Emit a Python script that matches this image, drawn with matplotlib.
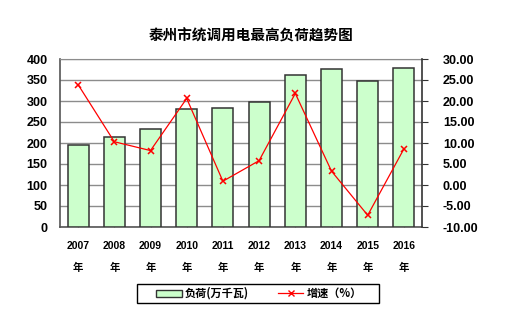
import matplotlib
matplotlib.use("Agg")
import matplotlib.pyplot as plt
import matplotlib.transforms as mtransforms
from matplotlib.lines import Line2D
from matplotlib.patches import Patch, Rectangle

NUM_FONT = ['Liberation Sans', 'DejaVu Sans']
CJK_FONT = ['Noto Sans CJK SC', 'DejaVu Sans']
plt.rcParams['font.family'] = NUM_FONT

years = ['2007', '2008', '2009', '2010', '2011', '2012', '2013', '2014', '2015', '2016']
load = [195, 215, 233, 280, 283, 298, 363, 376, 347, 378]
growth = [23.9, 10.3, 8.2, 20.6, 0.9, 5.8, 21.8, 3.3, -7.2, 8.6]
left_ticks = [0, 50, 100, 150, 200, 250, 300, 350, 400]
right_ticks = [-10, -5, 0, 5, 10, 15, 20, 25, 30]

W, H = 506, 327
fig = plt.figure(figsize=(W / 100, H / 100), dpi=100)
ax = fig.add_axes([60 / W, 1 - 227 / H, (422 - 60) / W, (227 - 59) / H])

x = list(range(len(years)))
ax.bar(x, load, width=0.58, color='#CCFFCC', edgecolor='#333333', linewidth=1.1, zorder=3)
ax.set_xlim(-0.5, len(years) - 0.5)
ax.set_ylim(0, 400)
ax.set_yticks(left_ticks)
ax.yaxis.grid(True, color='#8c8c8c', linewidth=1.0, zorder=0)
ax.set_axisbelow(True)
ax.tick_params(axis='y', length=0, pad=9)
ax.set_xticks(x)
ax.set_xticklabels([''] * len(years))
ax.tick_params(axis='x', length=3, direction='in', color='#555555')
for lab in ax.get_yticklabels():
    lab.set_fontweight('bold')
    lab.set_fontsize(9)

# two-row category labels: year, then 年
trans = mtransforms.blended_transform_factory(ax.transData, fig.transFigure)
for xi, yr in zip(x, years):
    ax.text(xi, 1 - 246 / H, yr, transform=trans, ha='center', va='center',
            fontsize=7.5, fontweight='bold', family=NUM_FONT)
    ax.text(xi, 1 - 268 / H, '年', transform=trans, ha='center', va='center',
            fontsize=7.5, fontweight='bold', family=CJK_FONT)

for s in ['left', 'bottom']:
    ax.spines[s].set_color('#555555')
    ax.spines[s].set_linewidth(1.2)
ax.spines['top'].set_color('#8c8c8c')
ax.spines['right'].set_visible(False)

ax2 = ax.twinx()
ax2.plot(x, growth, color='#FF0000', linewidth=0.9, marker='x', markersize=5,
         markeredgewidth=1.1, zorder=5)
ax2.set_ylim(-10, 30)
ax2.set_yticks(right_ticks)
ax2.set_yticklabels([f'{v:.2f}' for v in right_ticks])
ax2.tick_params(axis='y', length=4, direction='out', pad=11, color='#333333')
for lab in ax2.get_yticklabels():
    lab.set_fontweight('bold')
    lab.set_fontsize(9)
for s in ['left', 'top', 'bottom']:
    ax2.spines[s].set_visible(False)
ax2.spines['right'].set_color('#333333')
ax2.spines['right'].set_linewidth(1.2)

fig.text(251 / W, 1 - 35 / H, '泰州市统调用电最高负荷趋势图', ha='center', va='center',
         fontsize=10.5, fontweight='heavy', family=CJK_FONT)

# legend box
fig.patches.append(Rectangle((137 / W, 1 - 303 / H), (379 - 137) / W, 19 / H,
                             transform=fig.transFigure, facecolor='white',
                             edgecolor='black', linewidth=1.0))
handles = [Patch(facecolor='#CCFFCC', edgecolor='#333333', linewidth=1.0),
           Line2D([], [], color='#FF0000', linewidth=0.9, marker='x', markersize=5)]
leg = fig.legend(handles, ['负荷(万千瓦)', '增速（%）'], loc='center',
                 bbox_to_anchor=(259 / W, 1 - 293.5 / H), ncol=2, frameon=False,
                 handlelength=2.3, handleheight=0.6, columnspacing=2.6,
                 borderpad=0.2, handletextpad=0.3,
                 prop={'family': CJK_FONT, 'weight': 'bold', 'size': 8})

fig.savefig('out.png', dpi=100, facecolor='white')
